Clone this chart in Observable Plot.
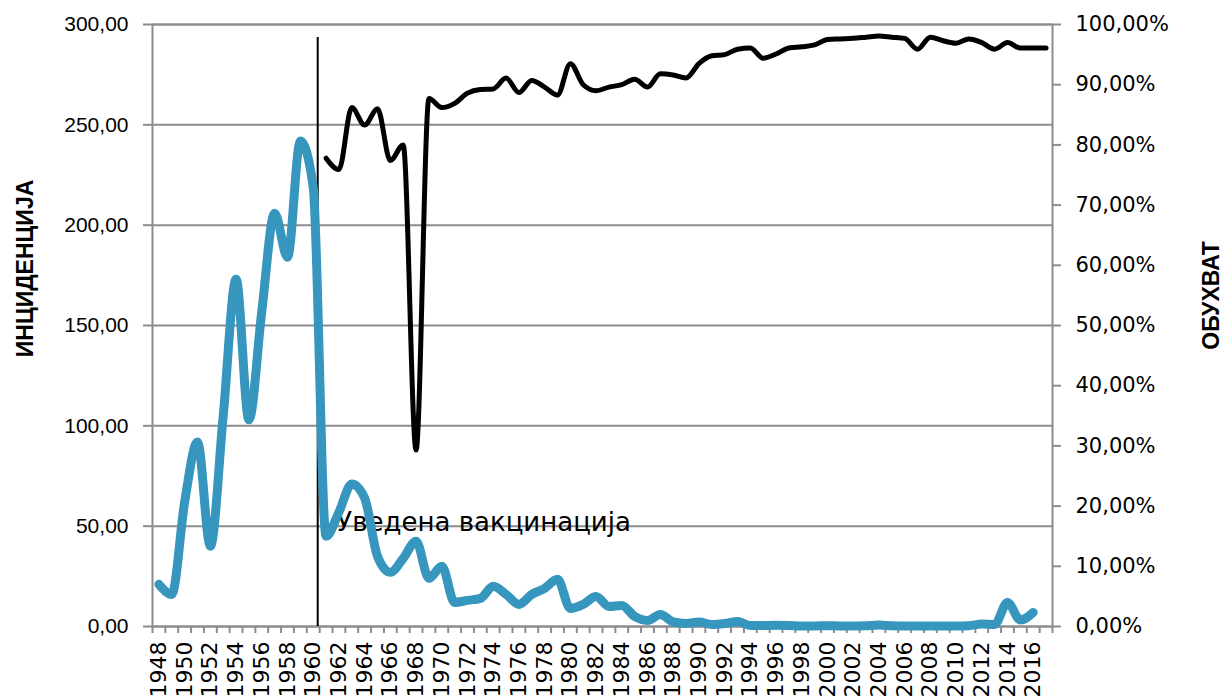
<!DOCTYPE html>
<html>
<head>
<meta charset="utf-8">
<script src="https://cdn.jsdelivr.net/npm/d3@7"></script>
<script src="https://cdn.jsdelivr.net/npm/@observablehq/plot@0.6"></script>
<style>
  body { margin: 0; background: #fff; }
  #chart svg { display: block; }
</style>
</head>
<body>
<div id="chart"></div>
<script>
// Incidence per 100 000 population, 1948–2016
const incidenceStart = 1948;
const incidence = [
  21, 16, 62, 92, 40, 105, 173, 103, 157, 206, 184, 242, 219,
  45, 57, 71, 64, 35, 27, 34, 42.5, 24, 30,
  12, 13, 14, 20, 16, 11, 16, 19, 23.5, 9,
  11, 15, 10, 10.5, 5, 3, 6, 2.3, 1.5, 2.2,
  1, 1.5, 2.5, 0.5, 0.5, 0.6, 0.5, 0.3, 0.3, 0.4,
  0.3, 0.3, 0.4, 0.7, 0.4, 0.3, 0.3, 0.3, 0.3, 0.3,
  0.4, 1.2, 1.0, 12, 3.2, 7
];

// Vaccination coverage (%), 1961–2017
const coverageStart = 1961;
const coverage = [
  77.8, 75.9, 86.2, 83.3, 86, 77.4, 80, 29.3, 87.7, 86.2,
  86.9, 88.6, 89.2, 89.3, 91.1, 88.7, 90.7, 89.6, 88.3, 93.5,
  90, 89, 89.6, 90, 90.9, 89.6, 91.8, 91.6, 91.1, 93.5,
  94.8, 95, 95.9, 96.1, 94.4, 95.1, 96.1, 96.3, 96.6, 97.5,
  97.6, 97.7, 97.9, 98.1, 97.9, 97.7, 95.9, 97.9, 97.3, 96.9,
  97.6, 97, 95.9, 97, 96.1, 96.1, 96.1
];

// Category range shown on the horizontal axis
const firstYear = 1948;
const lastYear = 2017;
const yearLabels = [
  1948, 1950, 1952, 1954, 1956, 1958, 1960, 1962, 1964, 1966, 1968, 1970,
  1972, 1974, 1976, 1978, 1980, 1982, 1984, 1986, 1988, 1990, 1992, 1994,
  1996, 1998, 2000, 2002, 2004, 2006, 2008, 2010, 2012, 2014, 2016
];

const incidenceTicks = [0, 50, 100, 150, 200, 250, 300];
const coverageTicks = [0, 10, 20, 30, 40, 50, 60, 70, 80, 90, 100];

const vaccinationYear = 1960.35;
const vaccinationLabel = "Уведена вакцинација";
const leftTitle = "ИНЦИДЕНЦИЈА";
const rightTitle = "ОБУХВАТ";

// ---- derived tables ----
const incidenceMax = 300;
const coverageMax = 100;
const covToY = incidenceMax / coverageMax;   // coverage drawn on the incidence scale

const incidenceData = incidence.map((v, i) => ({year: incidenceStart + i, value: v}));
const coverageData = coverage.map((v, i) => ({year: coverageStart + i, value: v * covToY}));
const boundaries = d3.range(firstYear - 0.5, lastYear + 1, 1);

const comma = (v) => v.toFixed(2).replace(".", ",");
const GRID = "#8c8c8c";
const BLUE = "#3796be";
const TITLE_FONT = "'Liberation Sans Narrow', 'Liberation Sans', sans-serif";

const chart = Plot.plot({
  width: 1222,
  height: 697,
  marginLeft: 152,
  marginRight: 170,
  marginTop: 24,
  marginBottom: 71,
  style: {fontFamily: "'DejaVu Sans', sans-serif", background: "#fff", overflow: "visible"},
  x: {type: "linear", domain: [firstYear - 0.5, lastYear + 0.5]},
  y: {domain: [0, incidenceMax]},
  marks: [
    // horizontal gridlines
    Plot.ruleY(incidenceTicks, {stroke: GRID, strokeWidth: 2}),
    Plot.frame({stroke: GRID, strokeWidth: 2}),

    // left axis: incidence
    Plot.axisY(incidenceTicks, {
      anchor: "left", label: null, tickSize: 9, tickPadding: 15,
      stroke: GRID, strokeWidth: 2, fill: "#000",
      fontSize: 21, fontFamily: "'Liberation Sans', sans-serif",
      tickFormat: comma
    }),
    // right axis: coverage
    Plot.axisY(coverageTicks.map((t) => t * covToY), {
      anchor: "right", label: null, tickSize: 8, tickPadding: 15,
      stroke: GRID, strokeWidth: 2, fill: "#000",
      fontSize: 21,
      tickFormat: (d) => comma(d / covToY) + "%"
    }),
    // bottom axis: tick marks between categories, labels on every other year
    Plot.axisX(boundaries, {
      anchor: "bottom", label: null, tickSize: 7, stroke: GRID, strokeWidth: 2,
      tickFormat: () => ""
    }),
    Plot.axisX(yearLabels, {
      anchor: "bottom", label: null, tickSize: 0, tickPadding: 15, tickRotate: -90,
      fontSize: 22, fill: "#000", tickFormat: (d) => String(d)
    }),

    // vaccination introduced
    Plot.ruleX([vaccinationYear], {y1: 0, y2: 293.5, stroke: "#000", strokeWidth: 2}),
    Plot.text([vaccinationLabel], {
      x: 1961.8, y: 51.5, text: (d) => d, textAnchor: "start",
      fontSize: 26, fill: "#000"
    }),

    // series
    Plot.line(incidenceData, {
      x: "year", y: "value", stroke: BLUE, strokeWidth: 9,
      curve: "monotone-x", strokeLinecap: "round", strokeLinejoin: "round"
    }),
    Plot.line(coverageData, {
      x: "year", y: "value", stroke: "#000", strokeWidth: 5,
      curve: "monotone-x", strokeLinecap: "round", strokeLinejoin: "round"
    }),

    // axis titles
    Plot.text([leftTitle], {
      frameAnchor: "left", text: (d) => d, rotate: -90, dx: -127, dy: -57,
      textAnchor: "middle", lineAnchor: "middle",
      fontSize: 23, fontWeight: "bold", fontFamily: TITLE_FONT
    }),
    Plot.text([rightTitle], {
      frameAnchor: "right", text: (d) => d, rotate: -90, dx: 159, dy: -30,
      textAnchor: "middle", lineAnchor: "middle",
      fontSize: 23, fontWeight: "bold", fontFamily: TITLE_FONT
    })
  ]
});

document.getElementById("chart").append(chart);
</script>
</body>
</html>
